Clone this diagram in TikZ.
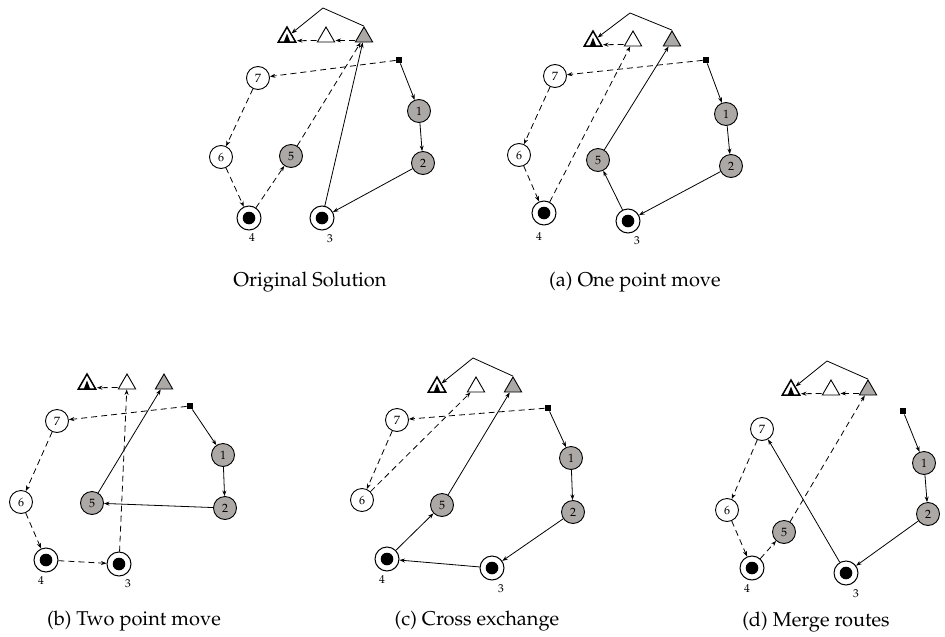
\documentclass[tikz,border=0pt]{standalone}
\usepackage[T1]{fontenc}
\usepackage{mathpazo}
\usetikzlibrary{shapes.geometric,arrows.meta}
\definecolor{gfill}{RGB}{172,168,166}
\tikzset{
  cnode/.style={circle, draw, line width=0.9pt, minimum size=23pt, inner sep=0pt, font=\fontsize{12}{14}\selectfont},
  gnode/.style={cnode, fill=gfill},
  wnode/.style={cnode, fill=white},
  dnode/.style={circle, draw, line width=1pt, minimum size=24pt, inner sep=0pt,
     path picture={\fill[black] (path picture bounding box.center) circle (6.3pt);}},
  tri/.style={regular polygon, regular polygon sides=3, draw, line width=0.9pt, minimum size=20pt, inner sep=0pt},
  gtri/.style={tri, fill=gfill},
  wtri/.style={tri, fill=white},
  btri/.style={tri, fill=white, line width=1.5pt,
     path picture={\fill[black] ([xshift=-3.2pt]path picture bounding box.south) -- ++(6.4pt,0pt) -- ++(-3.2pt,8.5pt) -- cycle;}},
  sqnode/.style={rectangle, fill=black, minimum size=6.5pt, inner sep=0pt},
  sol/.style={-{Stealth[length=5.5pt,width=4pt]}, line width=0.8pt},
  dsh/.style={sol, dash pattern=on 6pt off 4pt},
  lbl/.style={font=\fontsize{11.5}{13}\selectfont, inner sep=0pt},
  captxt/.style={font=\fontsize{20}{24}\selectfont, inner sep=0pt}
}
\begin{document}
\begin{tikzpicture}[x=1pt,y=-1pt]
\useasboundingbox (0,0) rectangle (945,637);

% ---------------- Original solution ----------------
\coordinate (opk) at (323,8);
\node[btri] (obt) at (287,37) {};
\node[wtri] (owt) at (326,37) {};
\node[gtri] (ogt) at (364,37) {};
\node[sqnode] (osq) at (399,60) {};
\node[wnode] (o7) at (258,78) {7};
\node[gnode] (o1) at (419,111) {1};
\node[wnode] (o6) at (221,157) {6};
\node[gnode] (o5) at (291,156) {5};
\node[gnode] (o2) at (423,163) {2};
\node[dnode] (o4) at (249,218) {};
\node[dnode] (o3) at (322,218) {};
\node[lbl] (ol4) at (252,238) {4};
\node[lbl] (ol3) at (330,239) {3};
\node[captxt] (ocap) at (310,282) {Original Solution};
\draw[sol] (ogt.corner 1) -- (opk) -- (obt);
\draw[dsh] ([yshift=2pt]ogt.corner 2) -- ([yshift=2pt]owt.corner 3);
\draw[dsh] ([yshift=2pt]owt.corner 2) -- ([yshift=2pt]obt.corner 3);
\draw[dsh] (osq) -- (o7);
\draw[dsh] (o7) -- (o6);
\draw[dsh] (o6) -- (o4);
\draw[dsh] (o4) -- (o5);
\draw[dsh] (o5) -- (ogt);
\draw[sol] (osq) -- (o1);
\draw[sol] (o1) -- (o2);
\draw[sol] (o2) -- (o3);
\draw[sol] (o3) -- (ogt);

% ---------------- (a) One point move ----------------
\coordinate (apk) at (630,13);
\node[btri] (abt) at (593,41) {};
\node[wtri] (awt) at (633,41) {};
\node[gtri] (agt) at (672,41) {};
\node[sqnode] (asq) at (706,60) {};
\node[wnode] (a7) at (555,76) {7};
\node[gnode] (a1) at (726,114) {1};
\node[wnode] (a6) at (519,155) {6};
\node[gnode] (a5) at (598,160) {5};
\node[gnode] (a2) at (731,166) {2};
\node[dnode] (a4) at (544,213) {};
\node[dnode] (a3) at (628,221) {};
\node[lbl] (al4) at (539,237) {4};
\node[lbl] (al3) at (637,241) {3};
\node[captxt] (acap) at (635,282) {(a) One point move};
\draw[sol] (agt.corner 1) -- (apk) -- (abt);
\draw[dsh] ([yshift=2pt]awt.corner 2) -- ([yshift=2pt]abt.corner 3);
\draw[dsh] (asq) -- (a7);
\draw[dsh] (a7) -- (a6);
\draw[dsh] (a6) -- (a4);
\draw[dsh] (a4) -- (awt);
\draw[sol] (asq) -- (a1);
\draw[sol] (a1) -- (a2);
\draw[sol] (a2) -- (a3);
\draw[sol] (a3) -- (a5);
\draw[sol] (a5) -- (agt);

% ---------------- (b) Two point move ----------------
\node[btri] (bbt) at (87,384) {};
\node[wtri] (bwt) at (127,384) {};
\node[gtri] (bgt) at (164,384) {};
\node[sqnode] (bsq) at (190,406) {};
\node[wnode] (b7) at (57,421) {7};
\node[gnode] (b1) at (223,455) {1};
\node[wnode] (b6) at (21,502) {6};
\node[gnode] (b5) at (92,503) {5};
\node[gnode] (b2) at (225,508) {2};
\node[dnode] (b4) at (46,560) {};
\node[dnode] (b3) at (119,564) {};
\node[lbl] (bl4) at (41,581) {4};
\node[lbl] (bl3) at (128,584) {3};
\node[captxt] (bcap) at (134,621) {(b) Two point move};
\draw[dsh] ([yshift=2pt]bwt.corner 2) -- ([yshift=2pt]bbt.corner 3);
\draw[dsh] (bsq) -- (b7);
\draw[dsh] (b7) -- (b6);
\draw[dsh] (b6) -- (b4);
\draw[dsh] (b4) -- (b3);
\draw[dsh] (b3) -- (bwt);
\draw[sol] (bsq) -- (b1);
\draw[sol] (b1) -- (b2);
\draw[sol] (b2) -- (b5);
\draw[sol] (b5) -- (bgt);

% ---------------- (c) Cross exchange ----------------
\coordinate (cpk) at (473,358);
\node[btri] (cbt) at (437,387) {};
\node[wtri] (cwt) at (476,387) {};
\node[gtri] (cgt) at (513,387) {};
\node[sqnode] (csq) at (548,408) {};
\node[wnode] (c7) at (397,420) {7};
\node[gnode] (c1) at (571,458) {1};
\node[wnode] (c6) at (362,500) {6};
\node[gnode] (c5) at (442,505) {5};
\node[gnode] (c2) at (573,512) {2};
\node[dnode] (c4) at (387,559) {};
\node[dnode] (c3) at (492,568) {};
\node[lbl] (cl4) at (382,580) {4};
\node[lbl] (cl3) at (501,589) {3};
\node[captxt] (ccap) at (477,621) {(c) Cross exchange};
\draw[sol] (cgt.corner 1) -- (cpk) -- (cbt);
\draw[dsh] (csq) -- (c7);
\draw[dsh] (c7) -- (c6);
\draw[dsh] (c6) -- (cwt);
\draw[sol] (csq) -- (c1);
\draw[sol] (c1) -- (c2);
\draw[sol] (c2) -- (c3);
\draw[sol] (c3) -- (c4);
\draw[sol] (c4) -- (c5);
\draw[sol] (c5) -- (cgt);

% ---------------- (d) Merge routes ----------------
\coordinate (dpk) at (827,361);
\node[btri] (dbt) at (791,390) {};
\node[wtri] (dwt) at (831,390) {};
\node[gtri] (dgt) at (868,390) {};
\node[sqnode] (dsq) at (903,411) {};
\node[wnode] (d7) at (762,429) {7};
\node[gnode] (d1) at (924,463) {1};
\node[wnode] (d6) at (727,510) {6};
\node[gnode] (d5) at (784,532) {5};
\node[gnode] (d2) at (928,514) {2};
\node[dnode] (d4) at (752,568) {};
\node[dnode] (d3) at (846,573) {};
\node[lbl] (dl4) at (747,589) {4};
\node[lbl] (dl3) at (856,594) {3};
\node[captxt] (dcap) at (816,622) {(d) Merge routes};
\draw[sol] (dgt.corner 1) -- (dpk) -- (dbt);
\draw[dsh] ([yshift=2pt]dgt.corner 2) -- ([yshift=2pt]dwt.corner 3);
\draw[dsh] ([yshift=2pt]dwt.corner 2) -- ([yshift=2pt]dbt.corner 3);
\draw[sol] (dsq) -- (d1);
\draw[sol] (d1) -- (d2);
\draw[sol] (d2) -- (d3);
\draw[sol] (d3) -- (d7);
\draw[dsh] (d7) -- (d6);
\draw[dsh] (d6) -- (d4);
\draw[dsh] (d4) -- (d5);
\draw[dsh] (d5) -- (dgt);
\end{tikzpicture}
\end{document}
